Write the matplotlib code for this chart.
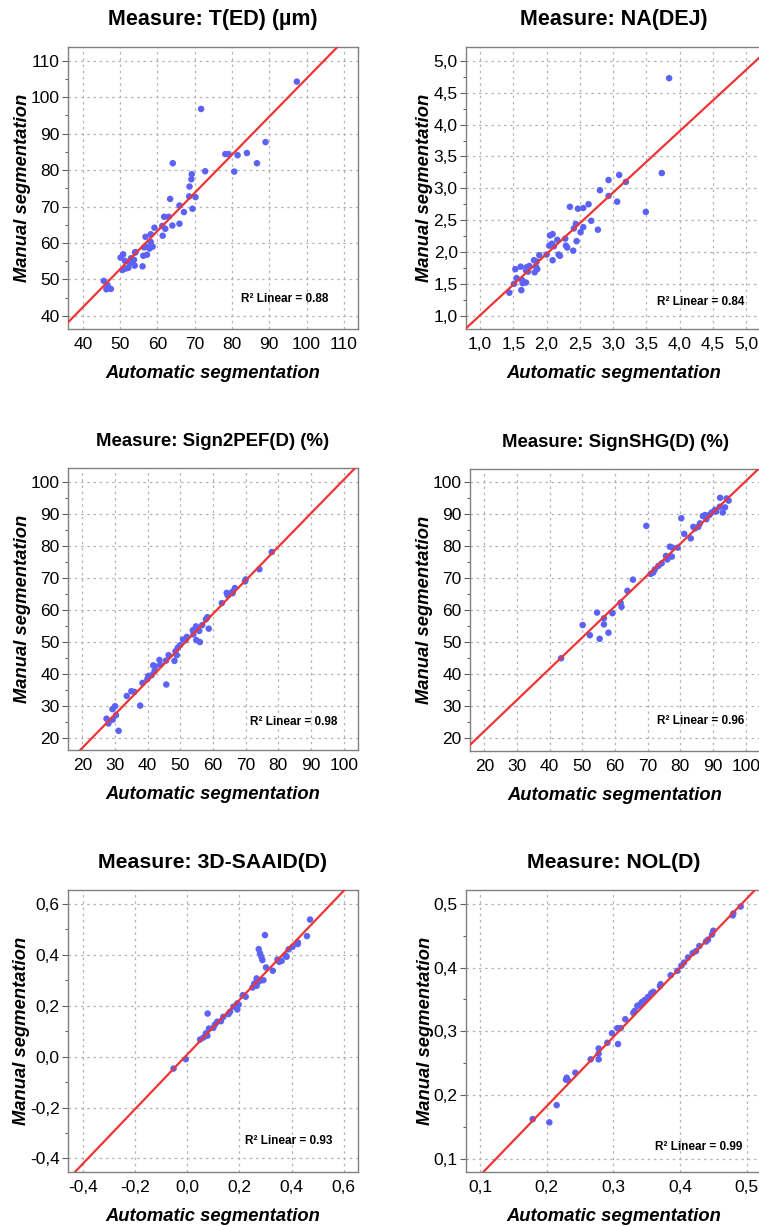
import numpy as np
import matplotlib
matplotlib.use("Agg")
import matplotlib.pyplot as plt
from matplotlib.ticker import MultipleLocator, FuncFormatter

plt.rcParams['font.family'] = ['Liberation Sans', 'DejaVu Sans']

# --- data (automatic vs manual segmentation) ---
ted_auto = [97.4, 71.7, 89.0, 78.2, 79.1, 81.5, 84.0, 86.7, 80.6, 72.8, 64.1, 69.2, 69.1, 68.6, 68.5,
            70.2, 63.4, 69.4, 65.9, 67.1, 65.9, 64.0, 61.8, 63.0, 62.1, 61.3, 61.4, 59.2, 58.2, 56.8,
            58.2, 58.7, 57.9, 56.4, 57.2, 56.2, 56.0, 54.1, 53.9, 53.7, 53.3, 52.6, 51.3, 50.8, 50.1,
            52.2, 51.5, 50.6, 52.9, 45.6, 46.3, 47.5, 46.6, 54.0, 57.1]
ted_manual = [104.3, 96.8, 87.7, 84.4, 84.4, 84.1, 84.7, 81.9, 79.6, 79.7, 81.9, 78.9, 77.5, 75.5, 72.8,
              72.6, 72.1, 69.4, 70.3, 68.5, 65.3, 64.8, 67.2, 67.2, 63.9, 64.7, 62.0, 64.2, 62.4, 61.7,
              60.3, 59.0, 58.5, 58.8, 56.8, 56.5, 53.6, 57.5, 53.8, 55.4, 54.6, 54.5, 55.1, 56.9, 56.0,
              53.2, 53.0, 52.6, 55.8, 49.6, 47.3, 47.4, 48.5, 57.4, 59.0]

na_auto = [3.84, 3.73, 3.49, 3.09, 3.19, 2.93, 2.93, 3.06, 2.80, 2.77, 2.63, 2.55, 2.47, 2.35, 2.67,
           2.55, 2.51, 2.44, 2.41, 2.45, 2.40, 2.28, 2.29, 2.31, 2.16, 2.18, 2.20, 2.09, 2.05, 2.08,
           2.04, 2.11, 2.09, 2.00, 1.89, 1.85, 1.81, 1.84, 1.86, 1.82, 1.74, 1.70, 1.69, 1.72, 1.61,
           1.53, 1.55, 1.63, 1.64, 1.69, 1.51, 1.62, 1.44]
na_manual = [4.73, 3.24, 2.63, 3.21, 3.10, 3.13, 2.88, 2.79, 2.97, 2.35, 2.75, 2.69, 2.68, 2.71, 2.49,
             2.39, 2.31, 2.44, 2.37, 2.17, 2.02, 2.21, 2.10, 2.07, 2.19, 1.96, 1.94, 2.28, 2.26, 2.13,
             2.10, 2.09, 1.87, 1.96, 1.95, 1.85, 1.87, 1.77, 1.73, 1.68, 1.78, 1.76, 1.71, 1.69, 1.77,
             1.73, 1.59, 1.56, 1.51, 1.52, 1.50, 1.40, 1.36]

pef_auto = [78.0, 74.2, 70.0, 69.8, 66.7, 65.9, 64.5, 64.2, 62.7, 58.3, 57.8, 58.7, 56.7, 55.8, 54.8,
            53.8, 54.0, 54.9, 56.0, 52.0, 51.6, 50.8, 49.9, 49.2, 48.9, 48.5, 46.4, 45.6, 48.2, 43.6,
            43.9, 42.3, 41.7, 42.1, 41.2, 40.2, 39.9, 38.4, 45.7, 35.9, 35.0, 33.6, 37.7, 30.0, 29.2,
            30.3, 27.4, 29.3, 28.0, 31.1, 66.0]
pef_manual = [78.2, 72.8, 69.6, 69.0, 66.9, 65.7, 64.6, 65.4, 62.2, 57.8, 57.1, 54.2, 55.3, 53.5, 54.9,
              53.7, 52.4, 50.6, 50.0, 51.6, 50.6, 50.8, 49.0, 48.2, 45.9, 47.1, 45.9, 44.2, 44.1, 44.4,
              42.9, 42.4, 42.7, 40.9, 39.6, 39.4, 38.4, 37.2, 36.7, 34.4, 34.6, 33.1, 30.1, 29.9, 29.0,
              27.1, 26.0, 25.7, 24.5, 22.2, 65.3]

shg_auto = [94.8, 94.2, 92.2, 93.7, 93.0, 92.1, 90.6, 89.6, 88.9, 87.6, 86.9, 86.0, 85.5, 84.5, 84.0,
            80.3, 81.2, 83.2, 76.8, 77.6, 79.2, 75.6, 76.0, 77.4, 74.3, 73.3, 72.2, 71.7, 70.9, 69.6,
            65.5, 63.8, 61.7, 62.0, 59.2, 54.5, 56.6, 56.6, 50.1, 52.3, 58.0, 55.3, 43.5, 88.0, 91.0]
shg_manual = [94.3, 95.0, 95.2, 92.2, 90.6, 92.4, 91.4, 90.6, 89.8, 89.8, 89.5, 87.2, 86.1, 85.6, 86.1,
              88.8, 83.9, 82.5, 79.9, 79.6, 79.6, 77.0, 75.9, 76.8, 74.7, 73.9, 72.8, 71.8, 71.4, 86.4,
              69.6, 66.1, 62.4, 61.1, 59.1, 59.3, 57.5, 55.6, 55.4, 52.2, 53.0, 51.1, 45.0, 88.5, 90.9]

saaid_auto = [0.471, 0.459, 0.298, 0.424, 0.424, 0.404, 0.389, 0.376, 0.381, 0.362, 0.353, 0.346,
              0.274, 0.279, 0.284, 0.288, 0.302, 0.328, 0.292, 0.279, 0.266, 0.257, 0.250, 0.266,
              0.273, 0.224, 0.213, 0.192, 0.192, 0.197, 0.177, 0.164, 0.158, 0.138, 0.129, 0.115,
              0.106, 0.100, 0.083, 0.078, 0.077, 0.062, 0.049, 0.071, -0.006, -0.053]
saaid_manual = [0.538, 0.473, 0.477, 0.448, 0.442, 0.431, 0.421, 0.398, 0.392, 0.376, 0.372, 0.381,
                0.422, 0.405, 0.392, 0.379, 0.350, 0.337, 0.300, 0.298, 0.307, 0.287, 0.271, 0.278,
                0.294, 0.235, 0.241, 0.209, 0.185, 0.204, 0.196, 0.176, 0.167, 0.156, 0.139, 0.137,
                0.126, 0.113, 0.110, 0.169, 0.082, 0.075, 0.067, 0.091, -0.010, -0.047]

nol_auto = [0.491, 0.479, 0.480, 0.450, 0.448, 0.442, 0.439, 0.429, 0.424, 0.419, 0.412, 0.406, 0.402,
            0.396, 0.386, 0.371, 0.370, 0.360, 0.357, 0.352, 0.347, 0.343, 0.340, 0.336, 0.332, 0.330,
            0.318, 0.311, 0.306, 0.307, 0.298, 0.291, 0.278, 0.278, 0.278, 0.266, 0.243, 0.230, 0.229,
            0.232, 0.215, 0.204, 0.179]
nol_manual = [0.496, 0.482, 0.485, 0.458, 0.452, 0.444, 0.441, 0.434, 0.426, 0.423, 0.416, 0.408, 0.403,
              0.395, 0.388, 0.374, 0.371, 0.362, 0.360, 0.354, 0.349, 0.346, 0.342, 0.340, 0.332, 0.329,
              0.319, 0.305, 0.305, 0.280, 0.297, 0.282, 0.273, 0.265, 0.256, 0.256, 0.235, 0.227, 0.224,
              0.223, 0.184, 0.157, 0.162]

titles = ["Measure: T(ED) (µm)", "Measure: NA(DEJ)", "Measure: Sign2PEF(D) (%)",
          "Measure: SignSHG(D) (%)", "Measure: 3D-SAAID(D)", "Measure: NOL(D)"]
r2_values = [0.88, 0.84, 0.98, 0.96, 0.93, 0.99]
# fit line (intercept, slope) as drawn in the reference
fit_lines = [(0.55, 1.046), (0.04, 0.965), (-4.10, 1.049), (2.67, 0.977), (0.0087, 1.0705), (-0.0351, 1.087)]

POINT_COLOR = '#5c62f5'
LINE_COLOR = '#ee3535'


def comma_fmt(decimals):
    return FuncFormatter(lambda v, pos: f"{v:.{decimals}f}".replace('.', ','))


def draw_panel(ax, x, y, title, r2, fit, lims, major, minor, fmt, r2_pos, title_size):
    ax.scatter(x, y, s=22, color=POINT_COLOR, edgecolors='none', zorder=3)
    xx = np.array([lims[0][0] - 1, lims[0][1] + 1])
    ax.plot(xx, fit[0] + fit[1] * xx, color=LINE_COLOR, lw=1.6, zorder=4)
    ax.set_xlim(*lims[0])
    ax.set_ylim(*lims[1])
    ax.xaxis.set_major_locator(MultipleLocator(major))
    ax.yaxis.set_major_locator(MultipleLocator(major))
    ax.yaxis.set_minor_locator(MultipleLocator(minor))
    if fmt is not None:
        ax.xaxis.set_major_formatter(fmt)
        ax.yaxis.set_major_formatter(fmt)
    ax.grid(True, which='major', linestyle=(0, (2, 3)), color='#b4b4b4', lw=0.9)
    for sp in ax.spines.values():
        sp.set_color('#808080')
        sp.set_linewidth(1.0)
    ax.tick_params(which='major', length=4, width=0.8, color='#606060', labelsize=12.5, pad=2)
    ax.tick_params(which='minor', length=2.5, width=0.8, color='#606060')
    ax.tick_params(axis='x', which='major', length=0, pad=6)
    ax.set_title(title, fontsize=title_size, fontweight='bold', pad=16)
    ax.set_xlabel("Automatic segmentation", fontsize=13.2, fontweight='bold', style='italic', labelpad=9)
    ax.set_ylabel("Manual segmentation", fontsize=13.2, fontweight='bold', style='italic', labelpad=0)
    ax.text(r2_pos[0], r2_pos[1], f"R² Linear = {r2:.2f}", transform=ax.transAxes,
            ha='right', va='center', fontsize=8.5, fontweight='bold')


fig = plt.figure(figsize=(7.59, 12.26), dpi=100)
W, H = 759, 1226


def add_axes(x0, y0, x1, y1):
    return fig.add_axes([x0 / W, 1 - y1 / H, (x1 - x0) / W, (y1 - y0) / H])


ax1 = add_axes(68, 47, 358, 329)
ax2 = add_axes(466, 47, 761, 329)
ax3 = add_axes(68, 468, 358, 750)
ax4 = add_axes(470, 469, 760, 751)
ax5 = add_axes(68, 890, 358, 1172)
ax6 = add_axes(466, 890, 761, 1172)

draw_panel(ax1, ted_auto, ted_manual, titles[0], r2_values[0], fit_lines[0],
           ((36.0, 113.8), (36.4, 113.8)), 10, 5, None, (0.897, 0.105), 15.5)
draw_panel(ax2, na_auto, na_manual, titles[1], r2_values[1], fit_lines[1],
           ((0.789, 5.22), (0.79, 5.22)), 0.5, 0.25, comma_fmt(1), (0.942, 0.097), 15.5)
draw_panel(ax3, pef_auto, pef_manual, titles[2], r2_values[2], fit_lines[2],
           ((15.6, 104.4), (16.2, 104.5)), 10, 5, None, (0.929, 0.100), 13.4)
draw_panel(ax4, shg_auto, shg_manual, titles[3], r2_values[3], fit_lines[3],
           ((15.6, 104.4), (16.0, 104.2)), 10, 5, None, (0.946, 0.106), 13.4)
draw_panel(ax5, saaid_auto, saaid_manual, titles[4], r2_values[4], fit_lines[4],
           ((-0.458, 0.655), (-0.453, 0.654)), 0.2, 0.1, comma_fmt(1), (0.913, 0.109), 15.3)
draw_panel(ax6, nol_auto, nol_manual, titles[5], r2_values[5], fit_lines[5],
           ((0.079, 0.5215), (0.079, 0.522)), 0.1, 0.05, comma_fmt(1), (0.938, 0.089), 15.3)

fig.savefig("out.png", dpi=100)
